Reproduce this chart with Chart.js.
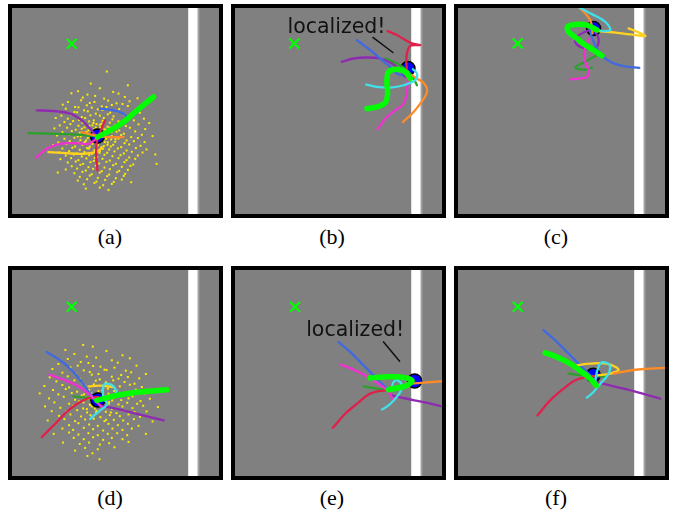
<!DOCTYPE html>
<html>
<head>
<meta charset="utf-8">
<script src="https://cdn.jsdelivr.net/npm/chart.js@4.4.0/dist/chart.umd.min.js"></script>
<style>
  body { margin: 0; background: #fff; width: 676px; height: 512px; position: relative; overflow: hidden; }
  canvas { position: absolute; }
  .cap { position: absolute; width: 100px; text-align: center; font: 22px 'Liberation Serif', serif; line-height: 22px; color: #000; }
</style>
</head>
<body>
<canvas id="pa" width="215" height="214" style="left:8px;top:4px"></canvas>
<canvas id="pb" width="215" height="214" style="left:231px;top:4px"></canvas>
<canvas id="pc" width="215" height="214" style="left:454px;top:4px"></canvas>
<canvas id="pd" width="215" height="214" style="left:8px;top:266px"></canvas>
<canvas id="pe" width="215" height="214" style="left:231px;top:266px"></canvas>
<canvas id="pf" width="215" height="214" style="left:454px;top:266px"></canvas>
<div class="cap" style="left:60px;top:226px">(a)</div>
<div class="cap" style="left:282px;top:226px">(b)</div>
<div class="cap" style="left:506px;top:226px">(c)</div>
<div class="cap" style="left:60px;top:487px">(d)</div>
<div class="cap" style="left:282px;top:487px">(e)</div>
<div class="cap" style="left:506px;top:487px">(f)</div>
<script>
// map units: x 0..620, y 0..616 (y grows downward)
const captions = ['(a)', '(b)', '(c)', '(d)', '(e)', '(f)'];
const robotPos = [[256, 383], [518, 181], [406, 61], [257, 389], [538, 332], [405, 315]];
const goalPos = [[179, 107], [178, 106], [179, 106], [179, 110], [180, 110], [179, 110]];
const wallX = 542;

// (a)
const aLime = [[256,386],[294,366],[334,341],[369,311],[399,286],[424,266]];
const aPurple = [[74,306],[124,308],[174,316],[209,336],[234,361],[252,383]];
const aBlue = [[264,301],[300,305],[330,314],[346,326]];
const aGreen = [[49,374],[124,376],[204,379],[256,384]];
const aOrange = [[209,371],[249,381],[284,386],[334,386]];
const aRed = [[279,336],[264,371],[254,401],[252,436],[256,486]];
const aMagenta = [[72,448],[104,421],[144,406],[194,404],[229,406],[256,388]];
const aYellow = [[109,431],[164,434],[214,436],[259,428],[269,416]];
// (b)
const bLime = [[395,301],[425,296],[450,283],[457,256],[455,221],[460,191],[485,183],[510,191],[525,211]];
const bRed = [[457,69],[485,81],[510,96],[530,106],[555,111],[525,113],[515,136],[513,161],[515,186]];
const bBlue = [[365,96],[405,126],[435,151],[465,176],[485,196],[500,201]];
const bPurple = [[320,161],[355,151],[395,148],[435,151],[470,166],[495,186],[510,206]];
const bGreen = [[450,151],[485,166],[515,186],[535,211],[545,231]];
const bCyan = [[393,229],[425,236],[465,238],[505,231],[540,216],[545,196],[533,183]];
const bMagenta = [[427,363],[450,331],[480,306],[505,286],[515,251],[517,211],[510,191]];
const bOrange = [[503,341],[530,316],[555,286],[575,251],[567,226],[545,211],[530,201]];
// (c)
const cLime = [[431,143],[406,126],[381,111],[356,91],[331,71],[328,56],[351,49],[386,51],[416,66]];
const cCyan = [[356,-6],[396,16],[426,31],[446,46],[456,66],[436,69],[421,66]];
const cOrange = [[361,-4],[381,16],[396,36],[401,56],[403,76]];
const cYellow = [[421,69],[466,73],[516,79],[561,84],[536,71],[511,61]];
const cBlue = [[396,71],[406,101],[426,136],[456,161],[496,174],[543,179]];
const cPurple = [[406,61],[381,71],[356,86],[351,101],[366,116],[391,123],[416,116],[421,91],[411,71]];
const cGreen = [[416,141],[386,158],[351,178],[381,185],[401,178]];
const cMagenta = [[336,213],[361,211],[386,206],[391,186],[381,161],[378,136],[384,111],[394,91]];
// (d)
const dLime = [[254,390],[314,375],[384,365],[464,358]];
const dBlue = [[104,245],[144,270],[179,300],[209,335],[234,370],[254,390]];
const dMagenta = [[112,313],[154,328],[194,345],[229,370],[254,395],[269,410]];
const dRed = [[89,500],[129,460],[169,420],[204,395],[234,382],[259,380]];
const dGreen = [[184,378],[224,382],[259,385]];
const dPurple = [[264,405],[314,415],[374,430],[454,450]];
const dCyan = [[234,445],[264,420],[286,400],[274,385],[274,345],[284,340],[304,348],[311,370],[279,390]];
const dYellow = [[229,348],[264,346],[304,350]];
// (e)
const eLime = [[405,323],[445,320],[495,320],[530,330],[515,345],[490,352],[460,358]];
const eBlue = [[310,215],[345,245],[380,280],[415,315],[440,340],[460,360]];
const eMagenta = [[317,283],[355,298],[395,318],[430,340],[455,360],[473,385]];
const eRed = [[293,472],[330,430],[365,400],[400,372],[430,362],[455,360]];
const eGreen = [[385,348],[425,355],[460,360]];
const eOrange = [[530,340],[565,337],[615,333],[630,332]];
const ePurple = [[470,375],[515,385],[565,395],[630,410]];
const eCyan = [[440,417],[460,405],[480,385],[495,365],[500,345],[487,330],[475,335],[470,350]];
// (f)
const fLime = [[261,248],[296,260],[336,280],[371,305],[396,325],[414,345]];
const fBlue = [[256,180],[296,215],[336,255],[371,290],[396,315],[411,330]];
const fRed = [[238,435],[276,390],[316,355],[351,330],[381,320],[411,318]];
const fGreen = [[331,310],[376,315],[446,320]];
const fYellow = [[356,285],[396,280],[446,280],[481,298],[456,310],[416,315]];
const fCyan = [[386,382],[406,365],[426,340],[448,315],[456,290],[446,278],[428,278],[416,305],[411,335]];
const fOrange = [[466,310],[506,302],[556,296],[630,292]];
const fPurple = [[416,335],[476,350],[536,365],[606,385]];

// "localized!" labels and their pointer lines
const noteB = { text: 'localized!', at: [304, 74], line: [[413,88],[473,133]] };
const noteE = { text: 'localized!', at: [360, 198], line: [[445,215],[493,273]] };

// particle clouds
const partA = [
[284,190],[347,231],[236,226],[198,249],[263,240],[303,251],[226,259],[319,256],[178,255],
[212,268],[249,263],[276,271],[338,266],[376,270],[168,281],[207,276],[233,284],[288,277],[313,285],[352,279],
[152,289],[189,296],[224,291],[247,281],[269,294],[299,290],[331,287],[161,301],[199,297],[216,306],
[239,298],[257,303],[283,296],[321,302],[347,293],[371,304],[139,310],[177,318],[195,312],[227,309],
[251,316],[271,305],[294,313],[315,309],[361,315],[148,322],[187,311],[209,326],[235,321],[263,322],
[287,318],[304,324],[337,319],[383,313],[131,329],[167,331],[201,335],[219,329],[245,336],[275,329],
[301,333],[319,339],[349,323],[395,331],[157,341],[183,338],[211,343],[231,339],[253,347],[271,337],
[293,343],[329,340],[365,336],[143,351],[175,347],[199,352],[217,357],[241,351],[263,349],[286,355],
[309,350],[341,353],[379,348],[411,344],[127,360],[165,358],[191,364],[209,361],[229,366],[251,357],
[277,363],[297,359],[321,366],[353,358],[151,371],[179,368],[203,373],[223,370],[243,376],[261,368],
[291,372],[313,370],[335,376],[369,369],[399,362],[135,381],[171,378],[197,384],[215,380],[237,387],
[269,378],[299,383],[327,380],[357,386],[389,379],[157,391],[187,388],[205,395],[227,389],[249,394],
[279,388],[297,393],[319,390],[343,396],[377,389],[421,383],[139,402],[173,398],[199,403],[219,400],
[241,406],[261,399],[287,402],[309,400],[337,404],[365,398],[397,401],[123,410],[163,407],[189,414],
[211,409],[233,415],[257,410],[275,413],[303,409],[327,416],[351,408],[385,412],[151,420],[181,418],
[203,424],[225,419],[247,425],[267,418],[291,423],[317,420],[343,426],[371,419],[403,423],[141,432],
[171,428],[195,435],[217,431],[239,436],[263,428],[285,433],[307,429],[335,435],[359,430],[391,432],
[161,441],[185,438],[209,444],[231,440],[255,446],[277,439],[301,443],[325,440],[351,447],[377,441],
[429,438],[145,452],[177,449],[199,455],[223,450],[245,457],[271,451],[293,456],[319,449],[343,455],
[369,451],[167,462],[191,459],[213,466],[235,461],[261,465],[283,460],[311,466],[337,461],[363,468],
[179,473],[205,469],[229,476],[251,471],[277,477],[303,470],[329,475],[355,472],[433,466],[161,483],
[195,480],[221,486],[243,481],[269,488],[293,482],[321,487],[347,484],[187,494],[211,490],[239,497],
[263,492],[291,498],[315,491],[339,496],[137,492],[203,505],[233,501],[257,508],[285,503],[311,509],
[335,502],[197,516],[225,512],[253,519],[279,514],[305,520],[329,513],[215,527],[247,523],[273,530],
[299,526],[357,521],[221,540],[263,537],[289,544],
[232,352],[246,362],[258,371],[268,381],[282,391],[242,398],[254,411],[272,421],[226,376],[216,403],
[286,409],[298,371],[264,357],[236,388],[250,381],[278,401],[262,433],[230,420],[292,358],[244,344],
[238,372],[274,394],[256,426],[222,396],[296,414],[268,346],[206,384],[310,392],[248,448],[280,364]
];
const partD = [
[213,224],[160,239],[242,229],[187,251],[283,242],[331,255],[224,259],
[167,266],[252,262],[299,270],[353,264],[206,275],[139,281],[197,286],[229,278],[265,289],[317,277],[373,286],
[121,296],[175,291],[215,300],[243,287],[283,299],[307,292],[341,301],[151,307],[191,312],[233,305],[259,311],[277,298],
[327,314],[357,306],[401,311],[113,321],[167,318],[203,325],[239,313],[263,327],[299,319],[319,325],[347,320],[381,324],
[133,333],[187,330],[211,339],[251,331],[281,336],[303,330],[337,335],[367,340],[97,347],[151,344],[171,351],[219,346],
[245,342],[273,350],[297,345],[323,348],[353,343],[389,350],[123,359],[161,356],[195,364],[231,358],[259,362],[287,355],
[313,361],[341,366],[371,358],[421,362],[83,369],[139,372],[179,368],[209,375],[237,369],[267,376],[289,370],
[333,373],[361,378],[397,369],[111,384],[155,379],[189,388],[221,381],[249,386],[277,390],[305,382],[327,389],[349,384],
[385,392],[413,385],[127,396],[171,400],[201,393],[233,402],[259,398],[291,395],[319,402],[345,397],[375,400],
[99,408],[145,412],[183,406],[213,414],[239,408],[271,410],[299,415],[331,408],[361,413],[393,406],[437,410],
[119,422],[163,424],[195,419],[225,426],[253,421],[281,424],[313,428],[337,421],[367,425],[403,423],
[141,436],[175,432],[207,438],[235,434],[265,440],[293,434],[323,437],[349,432],[383,439],[107,450],[157,446],
[189,452],[219,447],[245,445],[277,452],[305,448],[333,450],[365,446],[421,453],[129,460],[171,464],[199,458],
[231,462],[257,466],[289,460],[317,464],[347,460],[379,466],[151,474],[183,478],[215,472],[243,476],[273,480],
[301,474],[331,478],[359,474],[125,490],[171,486],[199,492],[229,488],[257,494],[287,490],[315,488],[345,494],
[401,490],[185,502],[215,506],[243,500],[273,508],[299,502],[331,506],[153,516],[203,520],[231,516],[263,522],
[291,518],[349,514],[219,532],[257,536],[307,530],[241,548],[189,540],[262,566],[226,556],
[244,376],[256,388],[270,394],[282,378],[238,392],[262,404],[248,414],[276,410],[290,400],[228,386],
[262,372],[300,390],[252,426],[214,396],[270,360],[234,404],[216,372],[296,426],[282,448],[240,440],[306,362],[224,416]
];

const colors = {
  lime: '#00ff00', cyan: '#40e0e8', magenta: '#f032d0', red: '#e0204a', orange: '#ff8c28',
  yellow: '#ffd21f', blue: '#4169e1', purple: '#8e2bb0', green: '#2ca02c'
};

const panels = [
  { id: 'pa', tracks: { lime: aLime, magenta: aMagenta, red: aRed, orange: aOrange, yellow: aYellow, blue: aBlue, purple: aPurple, green: aGreen }, particles: partA },
  { id: 'pb', tracks: { lime: bLime, cyan: bCyan, magenta: bMagenta, red: bRed, orange: bOrange, blue: bBlue, purple: bPurple, green: bGreen }, note: noteB },
  { id: 'pc', tracks: { lime: cLime, cyan: cCyan, magenta: cMagenta, orange: cOrange, yellow: cYellow, blue: cBlue, purple: cPurple, green: cGreen } },
  { id: 'pd', tracks: { lime: dLime, cyan: dCyan, magenta: dMagenta, red: dRed, yellow: dYellow, blue: dBlue, purple: dPurple, green: dGreen }, particles: partD },
  { id: 'pe', tracks: { lime: eLime, cyan: eCyan, magenta: eMagenta, red: eRed, orange: eOrange, blue: eBlue, purple: ePurple, green: eGreen }, note: noteE },
  { id: 'pf', tracks: { lime: fLime, cyan: fCyan, red: fRed, orange: fOrange, yellow: fYellow, blue: fBlue, purple: fPurple, green: fGreen } }
];

const xy = pts => pts.map(p => ({ x: p[0], y: p[1] }));

function lineSet(pts, color, width, tension) {
  return {
    type: 'line', data: xy(pts), borderColor: color, borderWidth: width,
    pointRadius: 0, tension: tension, fill: false, clip: 0,
    borderCapStyle: 'round', borderJoinStyle: 'round'
  };
}

// gray floor, black frame, "localized!" text
const frame = {
  id: 'frame',
  beforeDraw(chart) {
    const { ctx, chartArea: a, width, height } = chart;
    ctx.save();
    ctx.fillStyle = '#000';
    ctx.fillRect(0, 0, width, height);
    ctx.fillStyle = '#808080';
    ctx.fillRect(a.left, a.top, a.right - a.left, a.bottom - a.top);
    ctx.restore();
  },
  afterDatasetsDraw(chart, args, opts) {
    if (!opts.note) return;
    const { ctx, scales: { x, y } } = chart;
    ctx.save();
    ctx.font = '20.5px "DejaVu Sans"';
    ctx.fillStyle = '#111';
    ctx.textAlign = 'center';
    ctx.textBaseline = 'alphabetic';
    ctx.fillText(opts.note.text, x.getPixelForValue(opts.note.at[0]), y.getPixelForValue(opts.note.at[1]));
    ctx.restore();
  }
};

panels.forEach((p, i) => {
  const sets = [];
  if (p.note) sets.push(lineSet(p.note.line, '#111', 1.5, 0));
  Object.keys(p.tracks).forEach(k => {
    sets.push(lineSet(p.tracks[k], colors[k], k === 'lime' ? 5.5 : 2.3, 0.35));
  });
  sets.push({ type: 'scatter', data: xy([goalPos[i]]), pointStyle: 'crossRot', pointRadius: 7,
    borderColor: '#00ff00', borderWidth: 2.2, clip: 0 });
  sets.push({ type: 'scatter', data: xy([robotPos[i]]), pointRadius: 7,
    backgroundColor: '#0000ff', borderColor: '#000', borderWidth: 1.5, clip: 0 });
  if (p.particles) {
    sets.push({ type: 'scatter', data: xy(p.particles), pointStyle: 'rect', pointRadius: 1.4,
      backgroundColor: '#ffec00', borderWidth: 0, clip: 0 });
  }
  sets.push(lineSet([[wallX + 17, -20], [wallX + 17, 640]], '#a2a2a2', 1.5, 0));
  sets.push(lineSet([[wallX, -20], [wallX, 640]], '#ffffff', 9.5, 0));

  new Chart(document.getElementById(p.id), {
    type: 'scatter',
    data: { datasets: sets },
    options: {
      responsive: false,
      animation: false,
      devicePixelRatio: 1,
      events: [],
      layout: { autoPadding: false, padding: 4 },
      scales: {
        x: { type: 'linear', min: 0, max: 620, display: false },
        y: { type: 'linear', min: 0, max: 616, reverse: true, display: false }
      },
      plugins: {
        legend: { display: false },
        tooltip: { enabled: false },
        frame: { note: p.note }
      }
    },
    plugins: [frame]
  });
});
</script>
</body>
</html>
